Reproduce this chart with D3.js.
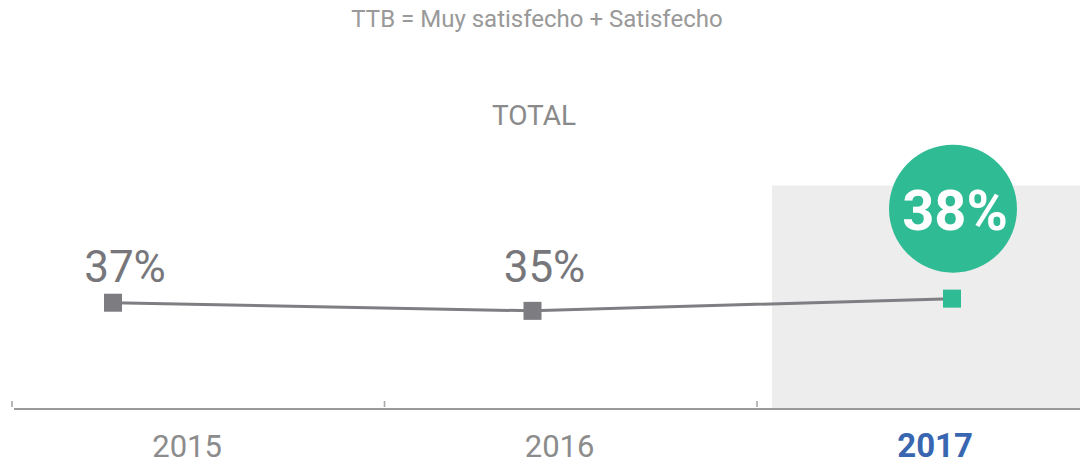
<!DOCTYPE html>
<html>
<head>
<meta charset="utf-8">
<script src="https://cdn.jsdelivr.net/npm/d3@7"></script>
<style>
  body { margin: 0; background: #fff; }
  text { font-family: Roboto, "Noto Sans", sans-serif; }
</style>
</head>
<body>
<script>
//============================================================
// Data
var years = ["2015", "2016", "2017"];
var values = [37, 35, 38];
var valueLabels = ["37%", "35%", "38%"];
var title = "TTB = Muy satisfecho + Satisfecho";
var subtitle = "TOTAL";
var highlightYear = "2017";

//============================================================
// Set up SVG
var width = 1080, height = 464;
var svg = d3.select("body")
  .append("svg")
  .attr("width", width)
  .attr("height", height);

// scales
var band = d3.scaleBand().domain(years).range([12, 1129.5]);
var x = d3.scalePoint().domain(years).range([113, 952]);
var y = d3.scaleLinear().domain([30, 40]).range([331.2, 290.5]);
var axisY = 409;

// highlighted column background
svg.append("rect")
  .attr("x", band(highlightYear) + 15)
  .attr("y", 185.5)
  .attr("width", width - band(highlightYear) - 15)
  .attr("height", axisY - 1 - 185.5)
  .style("fill", "#ededed");

// titles
svg.append("text")
  .attr("x", 537).attr("y", 27)
  .attr("text-anchor", "middle")
  .style("font-size", "24px")
  .style("fill", "#999")
  .text(title);

svg.append("text")
  .attr("x", 534).attr("y", 125)
  .attr("text-anchor", "middle")
  .style("font-size", "28px")
  .style("fill", "#8a8a8a")
  .text(subtitle);

//============================================================
// Axis line + ticks
svg.append("line")
  .attr("x1", 14).attr("x2", width)
  .attr("y1", axisY).attr("y2", axisY)
  .style("stroke", "#9a9a9a")
  .style("stroke-width", 2.2);

svg.selectAll(".tick")
  .data(years)
  .enter()
  .append("line")
  .attr("x1", function (d) { return band(d); })
  .attr("x2", function (d) { return band(d); })
  .attr("y1", axisY - 8).attr("y2", axisY - 2)
  .style("stroke", "#a8a8a8")
  .style("stroke-width", 1.6);

svg.selectAll(".year")
  .data(years)
  .enter()
  .append("text")
  .attr("x", function (d) { return band(d) + band.bandwidth() * 0.47 + (d === highlightYear ? 3 : 0); })
  .attr("y", 456.5)
  .attr("text-anchor", "middle")
  .style("font-size", function (d) { return d === highlightYear ? "33px" : "31px"; })
  .style("font-weight", function (d) { return d === highlightYear ? "bold" : "normal"; })
  .style("fill", function (d) { return d === highlightYear ? "#3966b1" : "#8c8c8c"; })
  .text(function (d) { return d; });

//============================================================
// Line + markers
var pts = years.map(function (d, i) { return { year: d, v: values[i], label: valueLabels[i] }; });

svg.append("path")
  .datum(pts)
  .attr("d", d3.line()
    .x(function (d) { return x(d.year); })
    .y(function (d) { return y(d.v); }))
  .style("fill", "none")
  .style("stroke", "#7e7e83")
  .style("stroke-width", 3);

svg.selectAll(".marker")
  .data(pts)
  .enter()
  .append("rect")
  .attr("x", function (d) { return x(d.year) - 9; })
  .attr("y", function (d) { return y(d.v) - 9; })
  .attr("width", 18)
  .attr("height", 18)
  .style("fill", function (d) { return d.year === highlightYear ? "#2fbb94" : "#7c7c81"; });

// value labels (not highlighted)
svg.selectAll(".val")
  .data(pts.filter(function (d) { return d.year !== highlightYear; }))
  .enter()
  .append("text")
  .attr("x", function (d) { return x(d.year) + 12; })
  .attr("y", 282)
  .attr("text-anchor", "middle")
  .style("font-size", "44px")
  .style("fill", "#77777b")
  .text(function (d) { return d.label; });

// highlighted bubble
var hl = pts.filter(function (d) { return d.year === highlightYear; });
svg.selectAll(".bubble")
  .data(hl)
  .enter()
  .append("circle")
  .attr("cx", function (d) { return x(d.year) + 1; })
  .attr("cy", function (d) { return y(d.v) - 90; })
  .attr("r", 64)
  .style("fill", "#2fbb94");

svg.selectAll(".bubbleText")
  .data(hl)
  .enter()
  .append("text")
  .attr("x", function (d) { return x(d.year) + 3; })
  .attr("y", function (d) { return y(d.v) - 69; })
  .attr("text-anchor", "middle")
  .style("font-size", "56px")
  .style("font-weight", "bold")
  .style("fill", "#fff")
  .text(function (d) { return d.label; });
</script>
</body>
</html>
